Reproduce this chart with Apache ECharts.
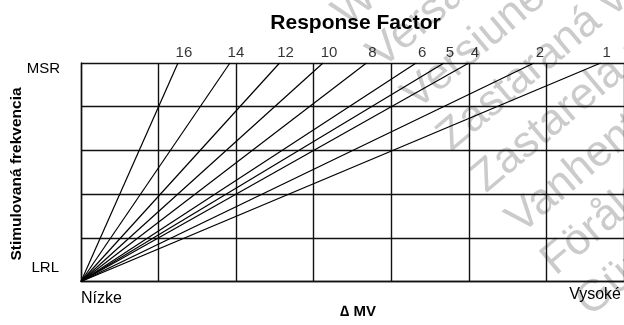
<!DOCTYPE html>
<html><head><meta charset="utf-8">
<script src="https://cdn.jsdelivr.net/npm/echarts@6/dist/echarts.min.js"></script>
<style>html,body{margin:0;padding:0;background:#fff}#c{width:624px;height:325px}</style>
</head><body><div id="c"></div>
<script>
// Response factor curves: each line runs from (0, LRL) to (deltaMvAtMsr, MSR)
const responseFactors = [16, 14, 12, 10, 8, 6, 5, 4, 2, 1];
const deltaMvAtMsr = [1.25, 1.92, 2.56, 3.12, 3.68, 4.32, 4.68, 5.0, 5.84, 6.7];
const rateLevels = [0, 5];            // LRL, MSR on the rate axis
const rateLabels = ['LRL', 'MSR'];
const activityLabels = ['Nízke', 'Vysoké'];
const chartTitle = 'Response Factor';
const xAxisTitle = '\u2206 MV';
const yAxisTitle = 'Stimulovaná frekvencia';
const watermarkLines = [
  'Wersja przeterminowana. Nie używać.',
  'Versão obsoleta. Não utilize.',
  'Versiune expirată. A nu se utiliza.',
  'Zastaraná verzia. Nepoužívať.',
  'Zastarela različica. Ne uporabite.',
  'Vanhentunut versio. Älä käytä.',
  'Föråldrad version. Använd ej.',
  'Güncel olmayan sürüm. Kullanmayın.'
];

const F = '"Liberation Sans", Arial, sans-serif';
const gridLine = {color: '#111', width: 1.4};
const chart = echarts.init(document.getElementById('c'), null, {renderer: 'canvas'});

const lineSeries = responseFactors.map((rf, i) => ({
  name: String(rf), type: 'line', symbol: 'none', silent: true, animation: false,
  lineStyle: {color: '#000', width: 1.2},
  data: [[0, rateLevels[0]], [deltaMvAtMsr[i], rateLevels[1]]],
  z: 3
}));

const labelSeries = {
  type: 'scatter', silent: true, animation: false, symbolSize: 1,
  itemStyle: {color: 'rgba(0,0,0,0)'},
  data: deltaMvAtMsr.map((x, i) => ({value: [x, rateLevels[1]], name: String(responseFactors[i])})),
  label: {show: true, position: 'top', distance: 2, offset: [6, 0], formatter: p => p.name,
    color: '#000', fontSize: 15, fontFamily: F},
  clip: false, z: 4
};

chart.setOption({
  animation: false,
  grid: {left: 81, top: 63, width: 549.5, height: 218.5},
  xAxis: {type: 'value', min: 0, max: 7, interval: 1,
    axisLine: {show: true, onZero: false, lineStyle: gridLine},
    axisTick: {show: false}, axisLabel: {show: false},
    splitLine: {show: true, lineStyle: gridLine}},
  yAxis: {type: 'value', min: 0, max: 5, interval: 1,
    axisLine: {show: true, onZero: false, lineStyle: gridLine},
    axisTick: {show: false}, axisLabel: {show: false},
    splitLine: {show: true, lineStyle: gridLine}},
  series: [...lineSeries, labelSeries],
  graphic: [
    {type: 'text', x: 322, y: -2, rotation: 40 * Math.PI / 180, z: -10, silent: true,
      style: {text: watermarkLines.join('\n'), fontSize: 44, fontFamily: F, fill: '#cbcbcb',
        lineHeight: 54, align: 'left', verticalAlign: 'top'}},
    {type: 'text', x: 355.5, y: 23, z: 10,
      style: {text: chartTitle, fontSize: 21, fontWeight: 'bold', fontFamily: F, fill: '#000', align: 'center', verticalAlign: 'middle'}},
    {type: 'text', x: 60, y: 69, z: 10,
      style: {text: rateLabels[1], fontSize: 15, fontFamily: F, fill: '#000', align: 'right', verticalAlign: 'middle'}},
    {type: 'text', x: 59, y: 268, z: 10,
      style: {text: rateLabels[0], fontSize: 15, fontFamily: F, fill: '#000', align: 'right', verticalAlign: 'middle'}},
    {type: 'text', x: 81, y: 299, z: 10,
      style: {text: activityLabels[0], fontSize: 16, fontFamily: F, fill: '#000', align: 'left', verticalAlign: 'middle'}},
    {type: 'text', x: 621, y: 295, z: 10,
      style: {text: activityLabels[1], fontSize: 16, fontFamily: F, fill: '#000', align: 'right', verticalAlign: 'middle'}},
    {type: 'text', x: 358, y: 312, z: 10,
      style: {text: xAxisTitle, fontSize: 15, fontWeight: 'bold', fontFamily: F, fill: '#000', align: 'center', verticalAlign: 'middle'}},
    {type: 'text', x: 17, y: 174, rotation: Math.PI / 2, z: 10,
      style: {text: yAxisTitle, fontSize: 15.5, fontWeight: 'bold', fontFamily: F, fill: '#000', align: 'center', verticalAlign: 'middle'}}
  ]
});
</script></body></html>
